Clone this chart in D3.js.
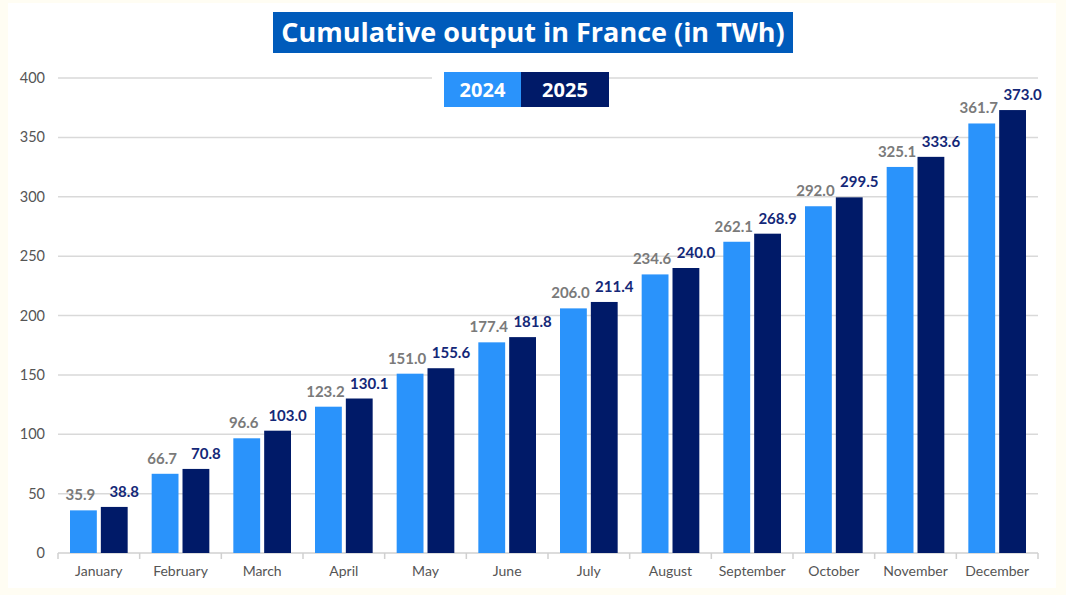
<!DOCTYPE html>
<html>
<head>
<meta charset="utf-8">
<script src="https://cdn.jsdelivr.net/npm/d3@7"></script>
<style>
  body { margin: 0; background: #fffdf3; }
  svg { display: block; }
</style>
</head>
<body>
<script>
var months = ['January', 'February', 'March', 'April', 'May', 'June', 'July', 'August', 'September', 'October', 'November', 'December'];
var years = ['2024', '2025'];
var values2024 = [35.9, 66.7, 96.6, 123.2, 151.0, 177.4, 206.0, 234.6, 262.1, 292.0, 325.1, 361.7];
var values2025 = [38.8, 70.8, 103.0, 130.1, 155.6, 181.8, 211.4, 240.0, 268.9, 299.5, 333.6, 373.0];
var yTicks = [0, 50, 100, 150, 200, 250, 300, 350, 400];

var width = 1066, height = 595;
var colors = { '2024': '#2a93fb', '2025': '#001a68' };
var labelColors = { '2024': '#7a7a7a', '2025': '#142878' };
// labels sit a little off the bar centre, 2025 ones pushed right
var labelShift = { '2024': -3, '2025': 10 };

var svg = d3.select('body').append('svg').attr('width', width).attr('height', height);

// white card
svg.append('rect').attr('x', 8).attr('y', 3).attr('width', 1048).attr('height', 585).attr('fill', '#ffffff');

var x0 = d3.scaleBand().domain(months).range([58, 1038]).padding(0);
var x1 = d3.scaleBand().domain(years).range([12, x0.bandwidth() - 12]).paddingInner(0.13);
var y = d3.scaleLinear().domain([0, 400]).range([553, 78]);

// gridlines
svg.append('g').selectAll('line').data(yTicks.slice(1)).enter().append('line')
  .attr('x1', 58).attr('x2', 1038)
  .attr('y1', function(d) { return y(d); }).attr('y2', function(d) { return y(d); })
  .attr('stroke', '#d9d9d9').attr('stroke-width', 1.5);

// y axis labels
svg.append('g').selectAll('text').data(yTicks).enter().append('text')
  .attr('x', 45).attr('y', function(d) { return y(d) + 5; })
  .attr('text-anchor', 'end')
  .style('font-family', 'Lato, sans-serif').style('font-size', '14.5px').attr('fill', '#555')
  .text(function(d) { return d; });

// x axis
var xAxis = svg.append('g').attr('transform', 'translate(0,553)');
xAxis.append('line').attr('x1', 58).attr('x2', 1038).attr('stroke', '#d0d0d0').attr('stroke-width', 1.5);
var bounds = months.map(function(m) { return x0(m); }).concat([x0.range()[1]]);
xAxis.selectAll('.tk').data(bounds).enter().append('line')
  .attr('x1', function(d) { return d; }).attr('x2', function(d) { return d; })
  .attr('y1', 0).attr('y2', 6).attr('stroke', '#d0d0d0').attr('stroke-width', 1.5);
xAxis.selectAll('text').data(months).enter().append('text')
  .attr('x', function(d) { return x0(d) + x0.bandwidth() / 2; }).attr('y', 23)
  .attr('text-anchor', 'middle')
  .style('font-family', 'Lato, sans-serif').style('font-size', '14px').attr('fill', '#555')
  .text(function(d) { return d; });

// bars
var rows = months.map(function(m, i) {
  return { month: m, vals: [{ year: '2024', v: values2024[i] }, { year: '2025', v: values2025[i] }] };
});
var groups = svg.append('g').selectAll('g').data(rows).enter().append('g')
  .attr('transform', function(d) { return 'translate(' + x0(d.month) + ',0)'; });
groups.selectAll('rect').data(function(d) { return d.vals; }).enter().append('rect')
  .attr('x', function(d) { return x1(d.year); })
  .attr('width', x1.bandwidth())
  .attr('y', function(d) { return y(d.v); })
  .attr('height', function(d) { return y(0) - y(d.v); })
  .attr('fill', function(d) { return colors[d.year]; });
groups.selectAll('text').data(function(d) { return d.vals; }).enter().append('text')
  .attr('x', function(d) { return x1(d.year) + x1.bandwidth() / 2 + labelShift[d.year]; })
  .attr('y', function(d) { return y(d.v) - 10; })
  .attr('text-anchor', 'middle')
  .style('font-family', 'Lato, sans-serif').style('font-weight', 'bold').style('font-size', '15px')
  .attr('fill', function(d) { return labelColors[d.year]; })
  .text(function(d) { return d.v.toFixed(1); });

// title
svg.append('rect').attr('x', 273).attr('y', 12).attr('width', 520).attr('height', 41).attr('fill', '#005bbb');
svg.append('text').attr('x', 533).attr('y', 42).attr('text-anchor', 'middle')
  .style('font-family', '"Open Sans", sans-serif').style('font-weight', 'bold').style('font-size', '27px')
  .attr('fill', '#fff').text('Cumulative output in France (in TWh)');

// legend
svg.append('rect').attr('x', 432).attr('y', 68).attr('width', 170).attr('height', 44).attr('fill', '#fff');
var legX = { '2024': [444, 77], '2025': [521, 88] };
var leg = svg.append('g').selectAll('g').data(years).enter().append('g');
leg.append('rect')
  .attr('x', function(d) { return legX[d][0]; }).attr('y', 72)
  .attr('width', function(d) { return legX[d][1]; }).attr('height', 35)
  .attr('fill', function(d) { return colors[d]; });
leg.append('text')
  .attr('x', function(d) { return legX[d][0] + legX[d][1] / 2; }).attr('y', 97)
  .attr('text-anchor', 'middle')
  .style('font-family', '"Noto Sans", sans-serif').style('font-weight', 'bold').style('font-size', '20px')
  .attr('fill', '#fff').text(function(d) { return d; });
</script>
</body>
</html>
